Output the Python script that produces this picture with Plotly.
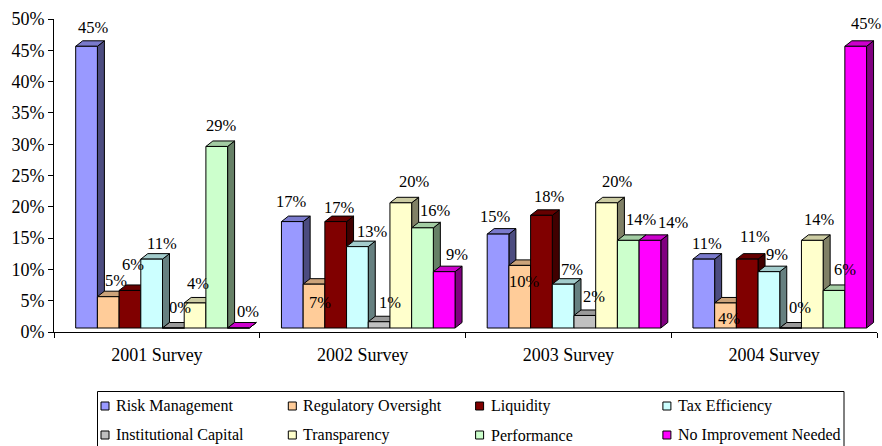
import plotly.graph_objects as go

surveys = ["2001 Survey", "2002 Survey", "2003 Survey", "2004 Survey"]
risk_management = [45, 17, 15, 11]
regulatory_oversight = [5, 7, 10, 4]
liquidity = [6, 17, 18, 11]
tax_efficiency = [11, 13, 7, 9]
institutional_capital = [0, 1, 2, 0]
transparency = [4, 20, 20, 14]
performance = [29, 16, 14, 6]
no_improvement_needed = [0, 9, 14, 45]
series_names = ["Risk Management", "Regulatory Oversight", "Liquidity", "Tax Efficiency",
                "Institutional Capital", "Transparency", "Performance", "No Improvement Needed"]
series_values = [risk_management, regulatory_oversight, liquidity, tax_efficiency,
                 institutional_capital, transparency, performance, no_improvement_needed]
y_ticks = list(range(0, 55, 5))

# Styling (separate from the data)
COLORS = [(153, 153, 255), (255, 204, 153), (128, 0, 0), (204, 255, 255),
          (192, 192, 192), (255, 255, 204), (204, 255, 204), (255, 0, 255)]
FONT = "Liberation Serif"
W, H = 882, 446
L, R, T, B = 54, 877, 19, 332       # plot rectangle in pixels
PX_X = (R - L) / 4                  # pixels per category
PX_Y = (B - T) / 50                 # pixels per percentage point
BASE_LIFT = 4                       # bars stand this many px above the axis line
DEPTH_X, DEPTH_Y = 7.0, 5.5         # 3-D extrusion in px
BAR_W = 21.7 / PX_X
BAR_START = 21.7 / PX_X
# data label nudges in px (dx, dy-down), survey by series
LABEL_NUDGE = [
    [(6.7, -19), (7.8, -16), (3.4, -26.4), (10.7, -15.8), (6.7, -20.7), (2.6, -19), (5, -20.5), (9.9, -16.3)],
    [(-0.6, -19.9), (6, 18.5), (3.6, -14.3), (15.3, -14.9), (10.9, -19), (13.2, -21.1), (13.2, -17.8), (13.1, -16.7)],
    [(-3, -17.4), (4.5, 16.3), (8.5, -18.6), (9.1, -14.9), (9.4, -18.8), (11.1, -21.1), (12.8, -21.1), (24, -18.1)],
    [(2.9, -15.8), (3.8, 16), (7.5, -22.4), (7.8, -17.4), (9.7, -20.7), (7, -21.1), (11, -21.1), (11, -23)],
]


def shade(c, f):
    return "rgb(%d,%d,%d)" % tuple(round(v * f) for v in c)


def px(x):
    return (x - L) / (R - L)


def py(y):
    return (B - y) / (B - T)


ddx = DEPTH_X / PX_X
ddy = DEPTH_Y / PX_Y
lift = BASE_LIFT / PX_Y
fig = go.Figure()
annotations = []
shapes = []

# invisible-data main subplot carries the visible axes
fig.add_trace(go.Scatter(x=[0, 4], y=[0, 50], mode="markers", marker=dict(opacity=0),
                         hoverinfo="skip", showlegend=False))

for s, (name, vals, col) in enumerate(zip(series_names, series_values, COLORS)):
    xs = [g + BAR_START + (s + 0.5) * BAR_W for g in range(4)]
    side_x, side_y, top_x, top_y = [], [], [], []
    for x, v in zip(xs, vals):
        x0, x1 = x - BAR_W / 2, x + BAR_W / 2
        side_x += [x1, x1 + ddx, x1 + ddx, x1, x1, None]
        side_y += [0, ddy, v + ddy, v, 0, None]
        top_x += [x0, x0 + ddx, x1 + ddx, x1, x0, None]
        top_y += [v, v + ddy, v + ddy, v, v, None]
    for fx, fy, f in ((side_x, side_y, 0.5), (top_x, top_y, 0.8)):
        fig.add_trace(go.Scatter(x=fx, y=fy, xaxis="x", yaxis="y2", mode="lines", fill="toself",
                                 fillcolor=shade(col, f), line=dict(color="black", width=1),
                                 hoverinfo="skip", showlegend=False))
    fig.add_trace(go.Bar(x=xs, y=vals, width=BAR_W, name=name, xaxis="x2", yaxis="y3",
                         marker=dict(color=shade(col, 1), line=dict(color="black", width=1)),
                         showlegend=False))
    for g, (x, v) in enumerate(zip(xs, vals)):
        dx, dy = LABEL_NUDGE[g][s]
        annotations.append(dict(x=x, y=v, xref="x", yref="y2", text=f"{v}%", showarrow=False,
                                xshift=dx, yshift=-dy, xanchor="center", yanchor="middle",
                                font=dict(family=FONT, size=16.5, color="black")))
    # legend entry
    row, colm = s // 4, s % 4
    cx = 105 + 187.3 * colm
    cy = 406 + 29 * row
    shapes.append(dict(type="rect", xref="paper", yref="paper", x0=px(cx - 4), x1=px(cx + 4),
                       y0=py(cy + 4), y1=py(cy - 4), fillcolor=shade(col, 1),
                       line=dict(color="black", width=1)))
    annotations.append(dict(x=px(cx + 10), y=py(cy), xref="paper", yref="paper", text=name,
                            showarrow=False, xanchor="left", yanchor="middle", borderpad=0,
                            font=dict(family=FONT, size=16, color="black")))

shapes.append(dict(type="rect", xref="paper", yref="paper", x0=px(97.5), x1=px(844), y0=py(450), y1=py(391.5),
                   fillcolor="rgba(0,0,0,0)", line=dict(color="black", width=1)))

fig.update_layout(
    width=W, height=H, autosize=False, paper_bgcolor="white", plot_bgcolor="white",
    margin=dict(l=L, r=W - R, t=T, b=H - B, pad=0),
    barmode="overlay", showlegend=False, annotations=annotations, shapes=shapes,
    font=dict(family=FONT, color="black"),
    xaxis=dict(range=[0, 4], tickmode="array", tickvals=[g + 0.5 for g in range(4)], ticktext=surveys,
               ticks="", showgrid=False, zeroline=False, showline=True, linecolor="black", linewidth=1,
               tickfont=dict(family=FONT, size=18, color="black"), ticklabelstandoff=6,
               minor=dict(ticks="outside", ticklen=5, tickcolor="black", tickwidth=1, tick0=0, dtick=1, showgrid=False)),
    yaxis=dict(range=[0, 50], tickmode="array", tickvals=y_ticks, ticktext=[f"{v}%" for v in y_ticks],
               ticks="outside", ticklen=5, tickcolor="black", showgrid=False, zeroline=False,
               showline=True, linecolor="black", linewidth=1,
               tickfont=dict(family=FONT, size=18, color="black")),
    yaxis2=dict(range=[-lift, 50 - lift], overlaying="y", visible=False),
    xaxis2=dict(range=[0, 4], overlaying="x", visible=False),
    yaxis3=dict(range=[-lift, 50 - lift], overlaying="y", visible=False),
)
fig.write_html("out.html", config={"displayModeBar": False},
               post_script="document.documentElement.style.overflow='hidden';document.body.style.margin='0';document.body.style.overflow='hidden';")
